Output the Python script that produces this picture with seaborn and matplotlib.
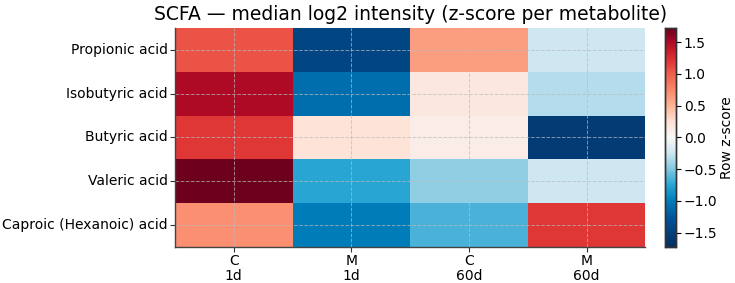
import numpy as np
import pandas as pd
import matplotlib
matplotlib.use("Agg")
import matplotlib.pyplot as plt
from matplotlib.colors import LinearSegmentedColormap
import seaborn as sns

metabolites = ["Propionic acid", "Isobutyric acid", "Butyric acid", "Valeric acid", "Caproic (Hexanoic) acid"]
groups = ["C\n1d", "M\n1d", "C\n60d", "M\n60d"]
propionic = [1.05, -1.45, 0.62, -0.23]
isobutyric = [1.50, -1.10, 0.18, -0.33]
butyric = [1.20, 0.22, 0.12, -1.55]
valeric = [1.70, -0.75, -0.45, -0.24]
caproic = [0.70, -1.00, -0.65, 1.20]

df = pd.DataFrame([propionic, isobutyric, butyric, valeric, caproic], index=metabolites, columns=groups)

VMAX = 1.72
anchors = [
    (-1.72, (5, 48, 97)),
    (-1.30, (0, 80, 150)),
    (-1.00, (0, 125, 185)),
    (-0.75, (40, 165, 210)),
    (-0.50, (130, 200, 225)),
    (-0.25, (205, 230, 241)),
    (0.00, (247, 247, 247)),
    (0.25, (254, 225, 212)),
    (0.50, (253, 180, 150)),
    (0.75, (250, 135, 105)),
    (1.00, (238, 95, 75)),
    (1.25, (220, 45, 50)),
    (1.50, (175, 10, 38)),
    (1.72, (105, 0, 28)),
]
cmap = LinearSegmentedColormap.from_list(
    "ref_rdbu",
    [((v + VMAX) / (2 * VMAX), tuple(c / 255 for c in rgb)) for v, rgb in anchors],
)

fig = plt.figure(figsize=(7.35, 2.83), dpi=100)
ax = fig.add_axes([0.238, 0.128, 0.640, 0.773])
cax = fig.add_axes([0.905, 0.128, 0.015, 0.773])

sns.heatmap(df, ax=ax, cbar_ax=cax, cmap=cmap, vmin=-VMAX, vmax=VMAX,
            cbar_kws={"label": "Row z-score"})

ax.set_title("SCFA — median log2 intensity (z-score per metabolite)", fontsize=13.5, pad=6)
ax.tick_params(axis="both", labelsize=10, length=3.5, color="#333333", pad=1.5)
ax.set_yticklabels(metabolites, rotation=0, fontsize=10)
ax.set_xticklabels(groups, rotation=0, fontsize=10, linespacing=1.1)
ax.set_xlabel("")
ax.set_ylabel("")
ax.grid(True, linestyle="--", color="#bbbbbb", linewidth=0.7, alpha=0.7)
for side in ["left", "bottom"]:
    ax.spines[side].set_visible(True)
    ax.spines[side].set_color("#444444")
    ax.spines[side].set_linewidth(1.0)

cax.tick_params(labelsize=10, length=3.5, pad=2)
cax.set_yticks([-1.5, -1.0, -0.5, 0.0, 0.5, 1.0, 1.5])
cax.set_ylabel("Row z-score", fontsize=10, labelpad=2)
for s in cax.spines.values():
    s.set_visible(True)
    s.set_color("#333333")
    s.set_linewidth(1.0)

fig.savefig("out.png", dpi=100)
